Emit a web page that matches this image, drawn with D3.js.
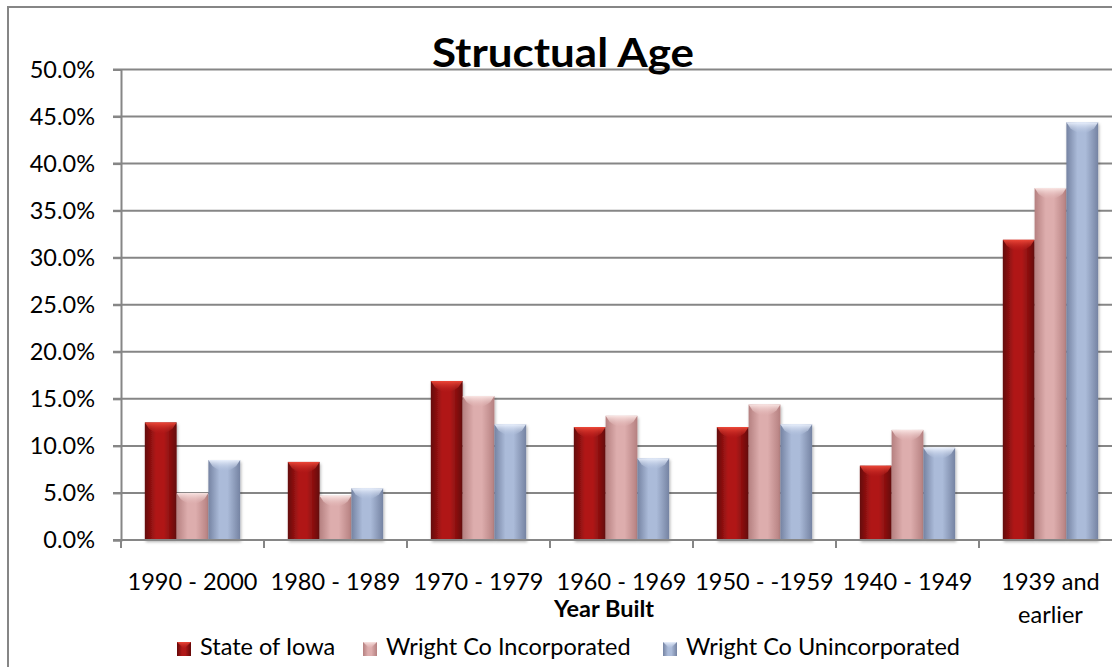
<!DOCTYPE html>
<html>
<head>
<meta charset="utf-8">
<script src="https://cdn.jsdelivr.net/npm/d3@7"></script>
<style>
  html, body { margin: 0; padding: 0; background: #fff; overflow: hidden; }
  svg { display: block; font-family: Lato, "Open Sans", sans-serif; }
</style>
</head>
<body>
<div id="chart"></div>
<script>
const categories = ['1990 - 2000', '1980 - 1989', '1970 - 1979', '1960 - 1969', '1950 - -1959', '1940 - 1949', '1939 and earlier'];
const seriesNames = ['State of Iowa', 'Wright Co Incorporated', 'Wright Co Unincorporated'];
const stateOfIowa = [12.5, 8.3, 16.9, 12.0, 12.0, 7.9, 31.9];
const wrightIncorporated = [5.0, 4.7, 15.3, 13.2, 14.4, 11.7, 37.4];
const wrightUnincorporated = [8.5, 5.5, 12.3, 8.7, 12.3, 9.8, 44.4];
const yTicks = [0, 5, 10, 15, 20, 25, 30, 35, 40, 45, 50];

const seriesValues = [stateOfIowa, wrightIncorporated, wrightUnincorporated];

// shading per series: edge, mid, cap highlight
const palette = [
  { edge: '#640808', mid: '#b01818', cap: '#f04a3a' },
  { edge: '#b58080', mid: '#ddadad', cap: '#fbe8e6' },
  { edge: '#7583a2', mid: '#abbbd9', cap: '#eef4ff' }
];

const W = 1112, H = 667;
const plot = { left: 121, right: 1122, top: 69.5, bottom: 540 };
const FS = 23.5;

const svg = d3.select('#chart').append('svg')
  .attr('width', W)
  .attr('height', H);

const defs = svg.append('defs');

palette.forEach((p, i) => {
  const g = defs.append('linearGradient')
    .attr('id', 'bar' + i)
    .attr('x1', 0).attr('x2', 1).attr('y1', 0).attr('y2', 0);
  g.append('stop').attr('offset', '0%').attr('stop-color', p.edge);
  g.append('stop').attr('offset', '35%').attr('stop-color', p.mid);
  g.append('stop').attr('offset', '60%').attr('stop-color', p.mid);
  g.append('stop').attr('offset', '100%').attr('stop-color', p.edge);

  const c = defs.append('linearGradient')
    .attr('id', 'cap' + i)
    .attr('x1', 0).attr('x2', 0).attr('y1', 0).attr('y2', 1);
  c.append('stop').attr('offset', '0%').attr('stop-color', p.cap).attr('stop-opacity', 0.95);
  c.append('stop').attr('offset', '100%').attr('stop-color', p.mid).attr('stop-opacity', 0.2);
});

const shadow = defs.append('filter').attr('id', 'shadow')
  .attr('x', '-20%').attr('y', '-5%').attr('width', '140%').attr('height', '115%');
shadow.append('feDropShadow')
  .attr('dx', 1).attr('dy', 2).attr('stdDeviation', 1.5)
  .attr('flood-color', '#000').attr('flood-opacity', 0.3);

// chart frame (right and bottom edges fall outside the picture)
svg.append('path')
  .attr('d', `M8,${H}V7H${W}`)
  .attr('fill', 'none')
  .attr('stroke', '#868686')
  .attr('stroke-width', 2);

const x0 = d3.scaleBand().domain(categories).range([plot.left, plot.right]);
const x1 = d3.scaleBand().domain(d3.range(seriesNames.length))
  .range([0, x0.bandwidth()])
  .paddingInner(0)
  .paddingOuter(0.75);
const y = d3.scaleLinear().domain([0, 50]).range([plot.bottom, plot.top]);

// gridlines
svg.append('g')
  .selectAll('line')
  .data(yTicks.filter(t => t > 0))
  .join('line')
  .attr('x1', plot.left - 8)
  .attr('x2', plot.right)
  .attr('y1', d => y(d))
  .attr('y2', d => y(d))
  .attr('stroke', '#868686')
  .attr('stroke-width', 2);

// title (sits over the top gridline like the original)
svg.append('text')
  .attr('x', 563)
  .attr('y', 67)
  .attr('text-anchor', 'middle')
  .attr('font-size', 40)
  .attr('font-weight', 700)
  .attr('textLength', 262)
  .attr('lengthAdjust', 'spacingAndGlyphs')
  .attr('fill', '#000')
  .text('Structual Age');

// y axis
const yAxis = svg.append('g')
  .attr('transform', `translate(${plot.left},0)`)
  .call(d3.axisLeft(y).tickValues(yTicks).tickSize(8).tickPadding(18)
    .tickFormat(d => d3.format('.1f')(d) + '%'));
yAxis.select('.domain').attr('stroke', '#868686').attr('stroke-width', 2);
yAxis.selectAll('.tick line').attr('stroke', '#868686').attr('stroke-width', 2);
yAxis.selectAll('.tick text')
  .attr('font-family', 'Lato, sans-serif')
  .attr('font-size', FS)
  .attr('fill', '#000');

// bars
const groups = svg.append('g')
  .selectAll('g')
  .data(categories)
  .join('g')
  .attr('transform', d => `translate(${x0(d)},0)`);

const bars = groups.selectAll('g.bar')
  .data((c, ci) => seriesValues.map((vals, si) => ({ si, value: vals[ci] })))
  .join('g')
  .attr('class', 'bar');

bars.append('rect')
  .attr('x', d => x1(d.si))
  .attr('y', d => y(d.value))
  .attr('width', x1.bandwidth())
  .attr('height', d => y(0) - y(d.value))
  .attr('fill', d => `url(#bar${d.si})`)
  .attr('filter', 'url(#shadow)');

bars.append('path')
  .attr('d', d => {
    const bx = x1(d.si), by = y(d.value), bw = x1.bandwidth();
    const h = Math.min(10, y(0) - y(d.value));
    return `M${bx},${by}H${bx + bw}L${bx + bw - 4},${by + h * 0.6}` +
      `Q${bx + bw / 2},${by + h * 1.6} ${bx + 4},${by + h * 0.6}Z`;
  })
  .attr('fill', d => `url(#cap${d.si})`);

// x axis
const xAxis = svg.append('g')
  .attr('transform', `translate(0,${plot.bottom})`);
xAxis.append('line')
  .attr('x1', plot.left - 8).attr('x2', plot.right)
  .attr('stroke', '#868686').attr('stroke-width', 2);
xAxis.selectAll('line.cat-tick')
  .data(categories)
  .join('line')
  .attr('class', 'cat-tick')
  .attr('x1', d => x0(d)).attr('x2', d => x0(d))
  .attr('y1', 0).attr('y2', 8)
  .attr('stroke', '#868686').attr('stroke-width', 2);

// category labels (wrap the long last one)
const catLabels = svg.append('g')
  .selectAll('text')
  .data(categories)
  .join('text')
  .attr('x', d => x0(d) + x0.bandwidth() / 2)
  .attr('y', 590)
  .attr('text-anchor', 'middle')
  .attr('font-size', FS)
  .attr('fill', '#000');
catLabels.each(function (d) {
  const t = d3.select(this);
  const parts = d === '1939 and earlier' ? ['1939 and', 'earlier'] : [d];
  parts.forEach((p, i) => {
    t.append('tspan')
      .attr('x', t.attr('x'))
      .attr('dy', i === 0 ? 0 : 33)
      .text(p);
  });
});

// axis title
svg.append('text')
  .attr('x', 604)
  .attr('y', 617)
  .attr('text-anchor', 'middle')
  .attr('font-size', FS)
  .attr('font-weight', 700)
  .attr('fill', '#000')
  .text('Year Built');

// legend
const legendX = [177, 363, 663];
const legend = svg.append('g')
  .selectAll('g')
  .data(seriesNames)
  .join('g')
  .attr('transform', (d, i) => `translate(${legendX[i]},642)`);
legend.append('rect')
  .attr('width', 14).attr('height', 14)
  .attr('fill', (d, i) => `url(#bar${i})`);
legend.append('path')
  .attr('d', 'M0,0H14L7,7Z')
  .attr('fill', (d, i) => `url(#cap${i})`);
legend.append('text')
  .attr('x', 23)
  .attr('y', 13)
  .attr('font-size', FS)
  .attr('fill', '#000')
  .text(d => d);
</script>
</body>
</html>
